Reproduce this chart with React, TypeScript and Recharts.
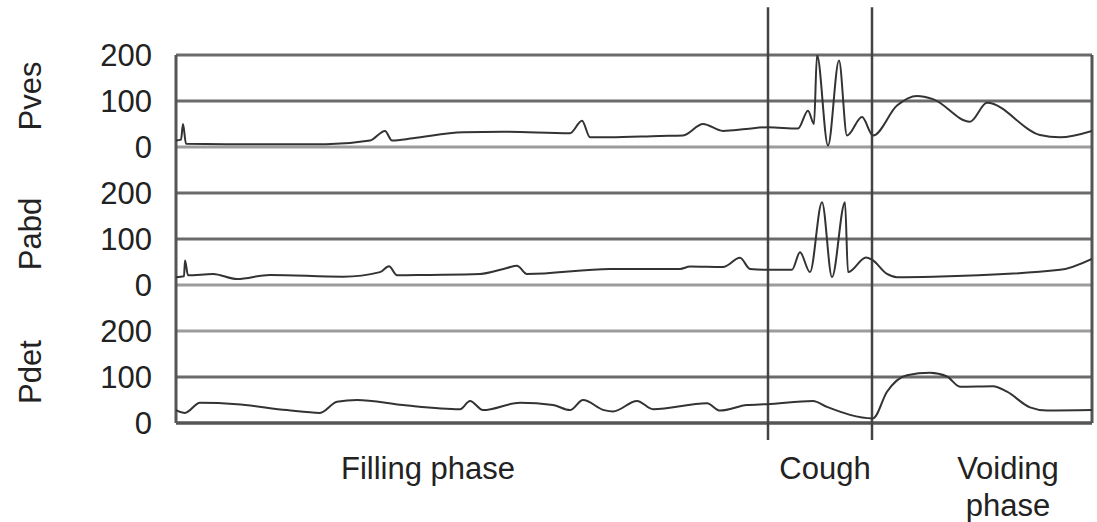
import React from "react";
import { LineChart, Line, XAxis, YAxis, ReferenceLine } from "recharts";

// time axis (arbitrary units, 0 = start of trace), pressures in cmH2O
const pvesTime = [0, 5, 7, 10, 60, 150, 194, 209, 216, 237, 287, 327, 394, 406, 414, 434, 484, 507, 527, 547, 570, 592, 622, 632, 638, 641, 652, 663, 671, 686, 697, 721, 741, 757, 794, 811, 864, 884, 916];
const pvesValue = [14, 16, 50, 7, 6, 6, 14, 35, 14, 19, 32, 33, 30, 57, 21, 21, 24, 25, 50, 35, 39, 43, 40, 79, 50, 200, 3, 188, 25, 65, 25, 90, 111, 104, 55, 96, 26, 21, 35];

const pabdTime = [0, 8, 9, 12, 37, 61, 94, 167, 204, 213, 221, 251, 304, 331, 341, 351, 434, 504, 514, 547, 564, 574, 591, 616, 624, 634, 646, 656, 669, 672, 690, 696, 711, 721, 757, 884, 916];
const pabdValue = [17, 19, 53, 21, 24, 13, 22, 18, 28, 41, 21, 22, 24, 37, 42, 24, 35, 35, 40, 39, 59, 35, 33, 33, 71, 28, 180, 17, 180, 28, 60, 55, 24, 17, 18, 33, 57];

const pdetTime = [0, 9, 24, 61, 111, 144, 161, 181, 227, 284, 294, 307, 344, 377, 394, 407, 428, 437, 461, 477, 531, 544, 571, 591, 637, 651, 697, 711, 731, 754, 771, 784, 817, 831, 854, 871, 916];
const pdetValue = [28, 22, 44, 41, 28, 22, 46, 50, 39, 30, 48, 28, 44, 39, 28, 50, 28, 25, 48, 30, 43, 27, 39, 41, 48, 35, 10, 68, 104, 109, 101, 79, 80, 68, 34, 27, 28];

const pressureTicks = [0, 100, 200];
const coughStart = 592;
const coughEnd = 696;
const timeEnd = 916;

const phaseTicks = [252, 649, 832];
const phaseLabels = [["Filling phase"], ["Cough"], ["Voiding", "phase"]];

const toPoints = (t: number[], v: number[]) => t.map((x, i) => ({ t: x, v: v[i] }));

const TEXT = "#222";
const GRID = "#6b6b6b";
const GRID_LIGHT = "#9c9c9c";
const TRACE = "#333";

// tick number left of a grid line, plus the rotated panel name on the 100 line
function GridLabel(props: any) {
  const { viewBox, value, name } = props;
  if (!viewBox) return null;
  const tx = viewBox.x - 24;
  const nx = viewBox.x - 146;
  const ny = viewBox.y - 5;
  return (
    <g>
      <text x={tx} y={viewBox.y} dy="0.36em" textAnchor="end" fontSize={31} fill={TEXT}>{value}</text>
      {name ? (
        <text x={nx} y={ny} dy="0.35em" transform={`rotate(-90 ${nx} ${ny})`} textAnchor="middle" fontSize={31} fill={TEXT}>
          {name}
        </text>
      ) : null}
    </g>
  );
}

function PhaseTick(props: any) {
  const { x, y, payload } = props;
  const idx = phaseTicks.indexOf(payload.value);
  const lines = idx >= 0 ? phaseLabels[idx] : [];
  return (
    <text x={x} y={y} textAnchor="middle" fontSize={31} fill={TEXT}>
      {lines.map((l, i) => (
        <tspan key={i} x={x} dy={i === 0 ? "0.71em" : "1.2em"}>{l}</tspan>
      ))}
    </text>
  );
}

export default function App() {
  const panels = [
    { id: "pves", name: "Pves", domain: [-600, 200], data: toPoints(pvesTime, pvesValue) },
    { id: "pabd", name: "Pabd", domain: [-300, 500], data: toPoints(pabdTime, pabdValue) },
    { id: "pdet", name: "Pdet", domain: [0, 800], data: toPoints(pdetTime, pdetValue) },
  ];

  const lineStyle = (id: string, tick: number) => {
    if (id === "pdet" && tick === 0) return { stroke: "#555", strokeWidth: 3.5 };
    if (id !== "pdet" && tick === 0) return { stroke: GRID_LIGHT, strokeWidth: 3 };
    if (id === "pdet" && tick === 200) return { stroke: GRID_LIGHT, strokeWidth: 3 };
    return { stroke: GRID, strokeWidth: 3 };
  };

  return (
    <div style={{ position: "absolute", left: 0, top: 0, width: 1097, height: 522, background: "#fff", fontFamily: "'Liberation Sans', Arial, sans-serif" }}>
      <LineChart width={1097} height={522} margin={{ top: 55, right: 5, bottom: 9, left: 176 }}>
        <XAxis
          dataKey="t"
          type="number"
          domain={[0, timeEnd]}
          allowDataOverflow
          ticks={phaseTicks}
          axisLine={false}
          tickLine={false}
          tickSize={0}
          tickMargin={34}
          height={90}
          interval={0}
          tick={<PhaseTick />}
        />
        {panels.map(p => (
          <YAxis key={p.id} yAxisId={p.id} type="number" domain={p.domain} allowDataOverflow hide />
        ))}
        {panels.map(p =>
          pressureTicks.map(tk => (
            <ReferenceLine
              key={p.id + "-" + tk}
              yAxisId={p.id}
              y={tk}
              {...lineStyle(p.id, tk)}
              label={<GridLabel value={tk} name={tk === 100 ? p.name : undefined} />}
            />
          ))
        )}
        <ReferenceLine yAxisId="pdet" segment={[{ x: 0, y: 0 }, { x: 0, y: 800 }]} stroke="#555" strokeWidth={3} ifOverflow="visible" />
        <ReferenceLine yAxisId="pdet" segment={[{ x: timeEnd, y: 0 }, { x: timeEnd, y: 800 }]} stroke="#555" strokeWidth={3} ifOverflow="visible" />
        <ReferenceLine yAxisId="pdet" segment={[{ x: coughStart, y: -37 }, { x: coughStart, y: 904 }]} stroke="#444" strokeWidth={2.5} ifOverflow="visible" />
        <ReferenceLine yAxisId="pdet" segment={[{ x: coughEnd, y: -37 }, { x: coughEnd, y: 904 }]} stroke="#444" strokeWidth={2.5} ifOverflow="visible" />
        {panels.map(p => (
          <Line
            key={p.id + "-line"}
            yAxisId={p.id}
            data={p.data}
            dataKey="v"
            type="monotone"
            stroke={TRACE}
            strokeWidth={2}
            dot={false}
            activeDot={false}
            isAnimationActive={false}
          />
        ))}
      </LineChart>
    </div>
  );
}
